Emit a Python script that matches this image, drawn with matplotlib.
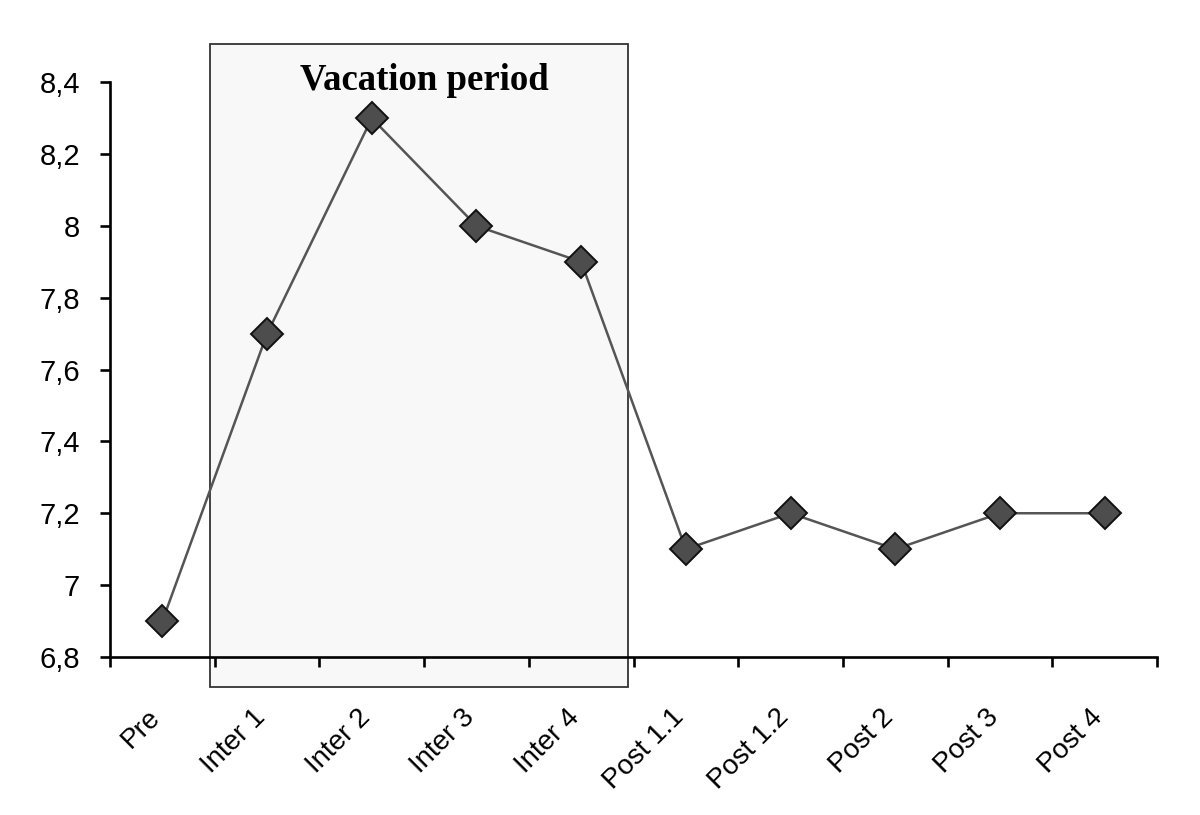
import matplotlib.pyplot as plt
from matplotlib.patches import Rectangle
from matplotlib.ticker import FixedLocator
from matplotlib.transforms import ScaledTranslation

categories = ["Pre", "Inter 1", "Inter 2", "Inter 3", "Inter 4",
              "Post 1.1", "Post 1.2", "Post 2", "Post 3", "Post 4"]
values = [6.9, 7.7, 8.3, 8.0, 7.9, 7.1, 7.2, 7.1, 7.2, 7.2]
y_ticks = [6.8, 7.0, 7.2, 7.4, 7.6, 7.8, 8.0, 8.2, 8.4]
y_labels = ["6,8", "7", "7,2", "7,4", "7,6", "7,8", "8", "8,2", "8,4"]
shaded_label = "Vacation period"

fig = plt.figure(figsize=(12, 8.15), dpi=100)
ax = fig.add_axes([0.0917, 0.194, 0.8725, 0.705])

x = list(range(len(categories)))
ax.plot(x, values, color="#555555", linewidth=1.8, marker="D",
        markersize=16, markerfacecolor="#4d4d4d", markeredgecolor="#111111",
        markeredgewidth=1.4, zorder=3)

ax.set_xlim(-0.5, len(categories) - 0.5)
ax.set_ylim(6.8, 8.4)

# shaded box behind the vacation weeks, spills below the axis
box = Rectangle((0.45, 6.717), 4.0, 1.79, facecolor="#f8f8f8",
                edgecolor="#333333", linewidth=1.3, clip_on=False, zorder=1)
ax.add_patch(box)
ax.text(2.5, 8.405, shaded_label, ha="center", va="center", fontsize=26.5,
        fontweight="bold", family="Liberation Serif", zorder=4)

for side in ["top", "right"]:
    ax.spines[side].set_visible(False)
for side in ["left", "bottom"]:
    ax.spines[side].set_linewidth(1.9)
    ax.spines[side].set_zorder(5)

ax.set_yticks(y_ticks)
ax.set_yticklabels(y_labels, fontsize=21, family="Liberation Sans")
ax.tick_params(axis="y", direction="out", length=7.5, width=1.9, pad=14)

# Excel style: tick marks between categories, labels centred on categories
ax.xaxis.set_major_locator(FixedLocator([i - 0.5 for i in range(len(categories) + 1)]))
ax.xaxis.set_major_formatter(plt.NullFormatter())
ax.set_xticks(x, minor=True)
ax.set_xticklabels(categories, minor=True, fontsize=20, family="Liberation Sans",
                   rotation=45, ha="right", va="top", rotation_mode="anchor")
ax.tick_params(axis="x", which="major", direction="out", length=7.5, width=1.9)
ax.tick_params(axis="x", which="minor", length=0, pad=34)
shift = ScaledTranslation(-15 / 100, 0, fig.dpi_scale_trans)
for lab in ax.get_xticklabels(minor=True):
    lab.set_transform(lab.get_transform() + shift)

fig.savefig("out.png", dpi=100)
